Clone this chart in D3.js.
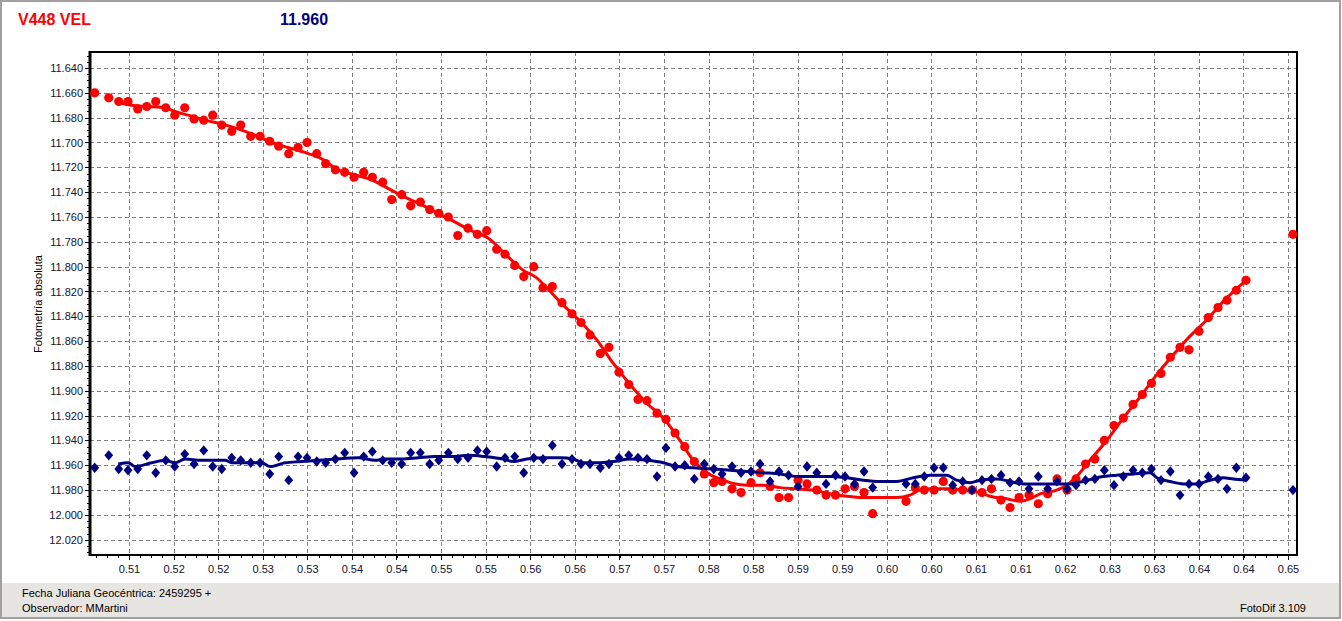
<!DOCTYPE html>
<html><head><meta charset="utf-8">
<script src="https://cdn.jsdelivr.net/npm/d3@7/dist/d3.min.js"></script>
<style>
body{margin:0;background:#fff;overflow:hidden;}
text{font-family:"Liberation Sans",Arial,sans-serif;}
</style>
</head><body>
<svg id="chart" width="1342" height="621"></svg>
<script>
// ---- data (fraction of JD 2459295, magnitudes) ----
const times = [
0.50659,0.50823,0.50940,0.51048,0.51162,0.51267,0.51372,0.51489,0.51594,0.51711,
0.51820,0.51933,0.52038,0.52143,0.52260,0.52365,0.52482,0.52591,0.52704,0.52809,
0.52926,0.53035,0.53140,0.53253,0.53358,0.53471,0.53580,0.53689,0.53802,0.53903,
0.54024,0.54129,0.54246,0.54351,0.54464,0.54573,0.54679,0.54791,0.54901,0.55021,
0.55130,0.55239,0.55356,0.55453,0.55567,0.55672,0.55789,0.55897,0.56006,0.56119,
0.56236,0.56341,0.56446,0.56567,0.56668,0.56785,0.56899,0.57007,0.57112,0.57229,
0.57334,0.57440,0.57553,0.57665,0.57782,0.57892,0.57989,0.58106,0.58211,0.58328,
0.58433,0.58550,0.58655,0.58766,0.58877,0.58982,0.59096,0.59204,0.59315,0.59426,
0.59537,0.59648,0.59749,0.60139,0.60247,0.60352,0.60466,0.60574,0.60684,0.60801,
0.60910,0.61026,0.61137,0.61249,0.61354,0.61459,0.61576,0.61684,0.61794,0.61903,
0.62020,0.62125,0.62236,0.62345,0.62456,0.62569,0.62678,0.62791,0.62900,0.63007,
0.63118,0.63227,0.63340,0.63445,0.63562,0.63671,0.63784,0.63889,0.63998,0.64111,
0.64660];
const targetMag = [
11.660,11.664,11.667,11.667,11.673,11.671,11.667,11.672,11.678,11.672,
11.681,11.682,11.678,11.686,11.691,11.686,11.695,11.695,11.699,11.703,
11.709,11.704,11.700,11.709,11.717,11.722,11.724,11.728,11.724,11.728,
11.732,11.746,11.742,11.751,11.748,11.754,11.757,11.760,11.775,11.769,
11.774,11.771,11.786,11.790,11.799,11.808,11.800,11.817,11.816,11.829,
11.838,11.845,11.855,11.870,11.865,11.885,11.895,11.907,11.908,11.918,
11.923,11.934,11.945,11.957,11.967,11.974,11.973,11.979,11.982,11.974,
11.966,11.977,11.986,11.986,11.972,11.975,11.980,11.984,11.984,11.979,
11.977,11.982,11.999,11.989,11.978,11.980,11.980,11.973,11.980,11.980,
11.980,11.982,11.979,11.988,11.994,11.986,11.984,11.991,11.983,11.971,
11.980,11.971,11.959,11.955,11.940,11.928,11.922,11.911,11.903,11.894,
11.886,11.873,11.865,11.867,11.852,11.841,11.833,11.827,11.819,11.811,
11.774];
const checkMag = [
11.962,11.952,11.963,11.964,11.963,11.952,11.966,11.956,11.961,11.951,
11.959,11.948,11.961,11.963,11.954,11.956,11.958,11.958,11.967,11.953,
11.972,11.953,11.954,11.957,11.958,11.955,11.950,11.966,11.953,11.949,
11.956,11.958,11.959,11.950,11.950,11.959,11.956,11.950,11.955,11.954,
11.948,11.949,11.961,11.954,11.953,11.966,11.954,11.955,11.944,11.959,
11.955,11.959,11.959,11.962,11.959,11.954,11.952,11.954,11.955,11.969,
11.946,11.961,11.960,11.971,11.959,11.963,11.967,11.961,11.966,11.965,
11.959,11.973,11.965,11.968,11.977,11.961,11.966,11.975,11.968,11.969,
11.975,11.965,11.978,11.975,11.975,11.969,11.962,11.962,11.976,11.973,
11.980,11.972,11.971,11.968,11.974,11.973,11.979,11.969,11.979,11.973,
11.979,11.976,11.972,11.971,11.964,11.976,11.969,11.964,11.966,11.963,
11.972,11.965,11.984,11.975,11.975,11.969,11.971,11.979,11.962,11.970,
11.980];
// smoothed curves as drawn in the picture
const targetFitT = [0.50940,0.51087,0.51282,0.51477,0.51594,0.51749,0.51945,0.52139,0.52334,0.52529,0.52723,0.52918,0.53113,0.53307,0.53502,0.53697,0.53891,0.54086,0.54281,0.54475,0.54670,0.54866,0.55060,0.55255,0.55473,0.55667,0.55824,0.55940,0.56134,0.56330,0.56525,0.56719,0.56914,0.57109,0.57303,0.57498,0.57653,0.57810,0.57965,0.58082,0.58277,0.58471,0.58666,0.58861,0.59055,0.59251,0.59446,0.59640,0.59835,0.60030,0.60185,0.60302,0.60419,0.60614,0.60808,0.61003,0.61120,0.61315,0.61471,0.61587,0.61704,0.61899,0.62016,0.62133,0.62288,0.62483,0.62677,0.62873,0.63068,0.63262,0.63457,0.63652,0.63846,0.64111];
const targetFitMag = [11.668,11.670,11.671,11.672,11.675,11.678,11.682,11.685,11.689,11.694,11.700,11.704,11.708,11.713,11.722,11.726,11.730,11.737,11.744,11.750,11.757,11.764,11.771,11.777,11.791,11.803,11.809,11.817,11.831,11.844,11.859,11.878,11.895,11.910,11.922,11.940,11.956,11.966,11.971,11.974,11.976,11.976,11.978,11.979,11.980,11.983,11.985,11.986,11.986,11.986,11.984,11.980,11.979,11.979,11.980,11.982,11.985,11.987,11.989,11.987,11.983,11.980,11.976,11.969,11.956,11.940,11.922,11.905,11.887,11.871,11.856,11.843,11.828,11.811];
const checkFitT = [0.50935,0.51052,0.51130,0.51325,0.51481,0.51598,0.51714,0.51909,0.52182,0.52260,0.52494,0.52611,0.52708,0.52883,0.53078,0.53272,0.53467,0.53739,0.53934,0.54051,0.54246,0.54440,0.54635,0.54830,0.55024,0.55220,0.55433,0.55550,0.55707,0.55940,0.56096,0.56251,0.56368,0.56525,0.56719,0.56914,0.57109,0.57303,0.57459,0.57653,0.57887,0.58082,0.58277,0.58471,0.58666,0.58861,0.59055,0.59251,0.59446,0.59640,0.59835,0.60030,0.60224,0.60419,0.60614,0.60731,0.60886,0.61003,0.61198,0.61354,0.61509,0.61704,0.61899,0.62055,0.62210,0.62367,0.62600,0.62794,0.62989,0.63068,0.63223,0.63379,0.63535,0.63690,0.63846,0.63963,0.64111];
const checkFitMag = [11.959,11.958,11.961,11.958,11.956,11.958,11.955,11.956,11.956,11.958,11.958,11.958,11.961,11.958,11.957,11.956,11.955,11.954,11.956,11.955,11.955,11.954,11.953,11.953,11.952,11.953,11.955,11.957,11.955,11.954,11.954,11.955,11.958,11.958,11.957,11.955,11.956,11.958,11.961,11.962,11.963,11.964,11.965,11.966,11.967,11.969,11.969,11.969,11.970,11.972,11.973,11.973,11.970,11.968,11.968,11.972,11.974,11.972,11.971,11.973,11.975,11.975,11.975,11.975,11.973,11.970,11.968,11.967,11.966,11.970,11.973,11.975,11.975,11.972,11.970,11.971,11.972];
// axis ticks
const xTickValues = [0.51060,0.51581,0.52102,0.52622,0.53143,0.53664,0.54185,0.54706,0.55227,0.55747,0.56268,0.56789,0.57310,0.57831,0.58352,0.58872,0.59393,0.59914,0.60435,0.60956,0.61477,0.61997,0.62518,0.63039,0.63560,0.64081,0.64602];
const xTickLabels = ["0.51","0.52","0.52","0.53","0.53","0.54","0.54","0.55","0.55","0.56","0.56","0.57","0.57","0.58","0.58","0.59","0.59","0.60","0.60","0.61","0.61","0.62","0.63","0.63","0.64","0.64","0.65"];
const yTickValues = [11.64,11.66,11.68,11.70,11.72,11.74,11.76,11.78,11.80,11.82,11.84,11.86,11.88,11.90,11.92,11.94,11.96,11.98,12.00,12.02];
const yTickLabels = ["11.640","11.660","11.680","11.700","11.720","11.740","11.760","11.780","11.800","11.820","11.840","11.860","11.880","11.900","11.920","11.940","11.960","11.980","12.000","12.020"];
const starName = "V448 VEL";
const checkValue = "11.960";
const yTitle = "Fotometría absoluta";
const footerLines = ["Fecha Juliana Geocéntrica: 2459295 +", "Observador: MMartini"];
const footerRight = "FotoDif 3.109";

// ---- layout ----
const W = 1342, H = 621;
const plot = {left: 90, top: 52, right: 1297, bottom: 555};
const svg = d3.select("#chart");

const x = d3.scaleLinear().domain([0.50604, 0.64707]).range([plot.left, plot.right]);
const y = d3.scaleLinear().domain([11.62711, 12.03227]).range([plot.top, plot.bottom]);

// background & window frame
svg.append("rect").attr("x",0).attr("y",0).attr("width",W).attr("height",H).attr("fill","#fff");
svg.append("rect").attr("x",1).attr("y",583).attr("width",1339).attr("height",35).attr("fill","#e7e5e2");
svg.append("rect").attr("x",1).attr("y",1).attr("width",1339).attr("height",617)
  .attr("fill","none").attr("stroke","#a0a0a0").attr("stroke-width",2);

// titles
svg.append("text").attr("x",18).attr("y",25).attr("fill","#ff0000").attr("font-weight","bold")
  .attr("font-size",16).text(starName);
svg.append("text").attr("x",280).attr("y",25).attr("fill","#000080").attr("font-weight","bold")
  .attr("font-size",16).text(checkValue);

// grid
const grid = svg.append("g").attr("stroke","#808080").attr("stroke-width",1)
  .attr("stroke-dasharray","4,3").attr("shape-rendering","crispEdges");
grid.selectAll("line.h").data(yTickValues).join("line")
  .attr("x1",plot.left).attr("x2",plot.right)
  .attr("y1",d=>Math.round(y(d))+0.5).attr("y2",d=>Math.round(y(d))+0.5);
grid.selectAll("line.v").data(xTickValues).join("line")
  .attr("y1",plot.top).attr("y2",plot.bottom)
  .attr("x1",d=>Math.round(x(d))+0.5).attr("x2",d=>Math.round(x(d))+0.5);

// minor ticks
const xStep = xTickValues[1]-xTickValues[0];
const xMinor = [];
for (let v = xTickValues[0]; v > x.domain()[0]; v -= xStep/4) xMinor.push(v);
for (let v = xTickValues[0]; v < x.domain()[1]; v += xStep/4) xMinor.push(v);
const yMinor = [];
for (let v = 11.630; v < 12.032; v += 0.005) yMinor.push(+v.toFixed(3));

const minG = svg.append("g").attr("stroke","#000").attr("stroke-width",1).attr("shape-rendering","crispEdges");
minG.selectAll("line.xm").data(xMinor).join("line")
  .attr("x1",d=>Math.round(x(d))+0.5).attr("x2",d=>Math.round(x(d))+0.5)
  .attr("y1",plot.bottom).attr("y2",plot.bottom+3);
minG.selectAll("line.ym").data(yMinor).join("line")
  .attr("y1",d=>Math.round(y(d))+0.5).attr("y2",d=>Math.round(y(d))+0.5)
  .attr("x1",plot.left-3).attr("x2",plot.left);

// axes
const xAxis = d3.axisBottom(x).tickValues(xTickValues).tickFormat((d,i)=>xTickLabels[i]).tickSize(5).tickPadding(5);
const gx = svg.append("g").attr("transform",`translate(0,${plot.bottom})`).call(xAxis);
const yAxis = d3.axisLeft(y).tickValues(yTickValues).tickFormat((d,i)=>yTickLabels[i]).tickSize(5).tickPadding(2);
const gy = svg.append("g").attr("transform",`translate(${plot.left},0)`).call(yAxis);
[gx,gy].forEach(g=>{
  g.select(".domain").remove();
  g.selectAll(".tick line").attr("stroke","#000").attr("shape-rendering","crispEdges");
  g.selectAll(".tick text").attr("font-size",11).attr("fill","#14122e")
    .attr("font-family",'"Liberation Sans",Arial,sans-serif');
});

// y axis title
svg.append("text").attr("transform","translate(42,304) rotate(-90)").attr("text-anchor","middle")
  .attr("font-size",11).attr("fill","#000").text(yTitle);

// plot frame
svg.append("rect").attr("x",plot.left).attr("y",plot.top)
  .attr("width",plot.right-plot.left).attr("height",plot.bottom-plot.top)
  .attr("fill","none").attr("stroke","#000").attr("stroke-width",2);
svg.append("line").attr("x1",plot.left).attr("x2",plot.left).attr("y1",plot.top-1).attr("y2",plot.bottom+1)
  .attr("stroke","#000").attr("stroke-width",3);

// data
const lineGen = d3.line().x(d=>x(d[0])).y(d=>y(d[1])).curve(d3.curveMonotoneX);
const data = times.map((t,i)=>({t, target: targetMag[i], check: checkMag[i]}));

const gData = svg.append("g");
// target (red)
gData.append("path").datum(targetFitT.map((t,i)=>[t,targetFitMag[i]]))
  .attr("d",lineGen).attr("fill","none").attr("stroke","#ff0000").attr("stroke-width",3)
  .attr("stroke-linejoin","round");
gData.selectAll("circle.tg").data(data).join("circle")
  .attr("cx",d=>x(d.t)).attr("cy",d=>y(d.target)).attr("r",4.6).attr("fill","#ff0000");
// check (navy)
gData.append("path").datum(checkFitT.map((t,i)=>[t,checkFitMag[i]]))
  .attr("d",lineGen).attr("fill","none").attr("stroke","#000080").attr("stroke-width",3)
  .attr("stroke-linejoin","round");
const diamond = d3.symbol().type(d3.symbolSquare).size(46);
gData.selectAll("path.ck").data(data).join("path")
  .attr("d",diamond)
  .attr("transform",d=>`translate(${x(d.t)},${y(d.check)}) scale(0.92,1.08) rotate(45)`)
  .attr("fill","#000080");

// footer
svg.append("text").attr("x",22).attr("y",597).attr("font-size",11).attr("fill","#000").text(footerLines[0]);
svg.append("text").attr("x",22).attr("y",612).attr("font-size",11).attr("fill","#000").text(footerLines[1]);
svg.append("text").attr("x",1306).attr("y",612).attr("font-size",11).attr("fill","#000")
  .attr("text-anchor","end").text(footerRight);
</script>
</body></html>
